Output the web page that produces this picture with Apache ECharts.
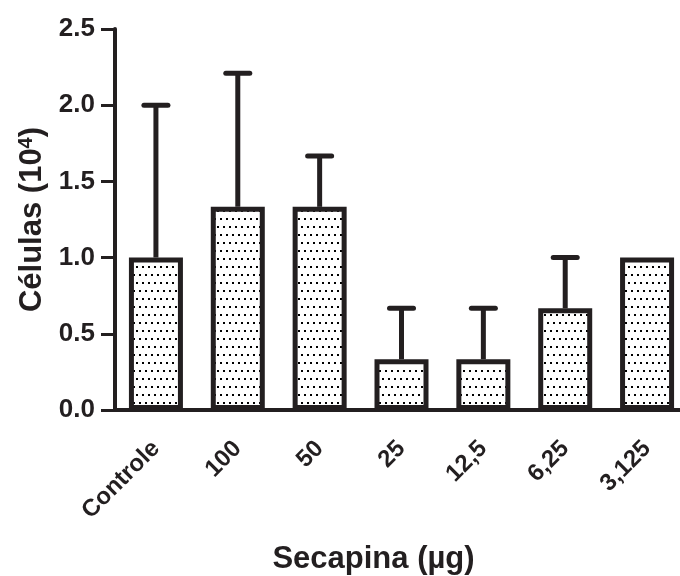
<!DOCTYPE html>
<html>
<head>
<meta charset="utf-8">
<script src="https://cdn.jsdelivr.net/npm/echarts@6/dist/echarts.min.js"></script>
<style>
  html, body { margin: 0; padding: 0; background: #fff; }
  #chart { width: 680px; height: 576px; }
</style>
</head>
<body>
<div id="chart"></div>
<script>
// doses (x categories)
const categories = ['Controle', '100', '50', '25', '12,5', '6,25', '3,125'];
// mean cell count (10^4)
const means = [1.0, 1.333, 1.333, 0.333, 0.333, 0.667, 1.0];
// top of the error bar (mean + SD)
const upper = [2.0, 2.21, 1.667, 0.667, 0.667, 1.0, 1.0];
const yTicks = [0, 0.5, 1.0, 1.5, 2.0, 2.5];

const ink = '#231f20';
const font = '"Liberation Sans", Arial, Helvetica, sans-serif';

// dotted fill like the original figure
function dotPattern () {
  const c = document.createElement('canvas');
  c.width = 12;
  c.height = 16;
  const ctx = c.getContext('2d');
  ctx.fillStyle = '#fff';
  ctx.fillRect(0, 0, 12, 16);
  ctx.fillStyle = '#000';
  ctx.fillRect(1, 2, 2, 2);
  ctx.fillRect(7, 2, 2, 2);
  ctx.fillRect(4, 10, 2, 2);
  ctx.fillRect(10, 10, 2, 2);
  return c;
}

const errData = categories.map((c, i) => [i, means[i], upper[i]]);

const chart = echarts.init(document.getElementById('chart'));
const option = {
  animation: false,
  grid: { left: 115, right: -8, top: 29, bottom: 166, containLabel: false, outerBoundsMode: 'none' },
  xAxis: {
    type: 'category',
    data: categories,
    name: 'Secapina (µg)',
    nameLocation: 'middle',
    nameGap: 134,
    nameTextStyle: {
      fontFamily: font, fontWeight: 'bold', fontSize: 31, color: ink,
      padding: [0, 56, 0, 0]
    },
    axisLine: { lineStyle: { color: ink, width: 4 } },
    axisTick: { alignWithLabel: true, length: 12, lineStyle: { color: ink, width: 3 } },
    axisLabel: {
      rotate: 45, margin: 35, interval: 0,
      fontFamily: font, fontWeight: 'bold', fontSize: 24, color: ink
    }
  },
  yAxis: {
    type: 'value',
    min: 0,
    max: 2.5,
    interval: 0.5,
    name: 'Células (10{sup|4})',
    nameLocation: 'middle',
    nameGap: 67,
    nameTextStyle: {
      fontFamily: font, fontWeight: 'bold', fontSize: 31, color: ink,
      rich: {
        sup: { fontFamily: font, fontWeight: 'bold', fontSize: 20, color: ink, verticalAlign: 'top', padding: [0, 0, 12, 0] }
      }
    },
    splitLine: { show: false },
    axisLine: { show: true, lineStyle: { color: ink, width: 4 } },
    axisTick: { show: true, length: 14, lineStyle: { color: ink, width: 3 } },
    axisLabel: {
      margin: 20,
      fontFamily: font, fontWeight: 'bold', fontSize: 26, color: ink,
      formatter: v => yTicks.indexOf(v) >= 0 ? v.toFixed(1) : ''
    }
  },
  series: [
    {
      type: 'custom',
      z: 1,
      data: errData,
      renderItem: function (params, api) {
        const i = api.value(0);
        const lo = api.coord([i, api.value(1)]);
        const hi = api.coord([i, api.value(2)]);
        if (api.value(2) <= api.value(1)) return null;
        const st = { stroke: ink, lineWidth: 5 };
        return {
          type: 'group',
          children: [
            { type: 'line', shape: { x1: lo[0], y1: lo[1], x2: hi[0], y2: hi[1] }, style: st },
            { type: 'line', shape: { x1: hi[0] - 12, y1: hi[1], x2: hi[0] + 12, y2: hi[1] }, style: Object.assign({ lineCap: 'round' }, st) }
          ]
        };
      }
    },
    {
      type: 'bar',
      z: 2,
      data: means,
      barWidth: 54,
      itemStyle: {
        color: { image: dotPattern(), repeat: 'repeat' },
        borderColor: ink,
        borderWidth: 5
      }
    }
  ]
};
chart.setOption(option);
</script>
</body>
</html>
